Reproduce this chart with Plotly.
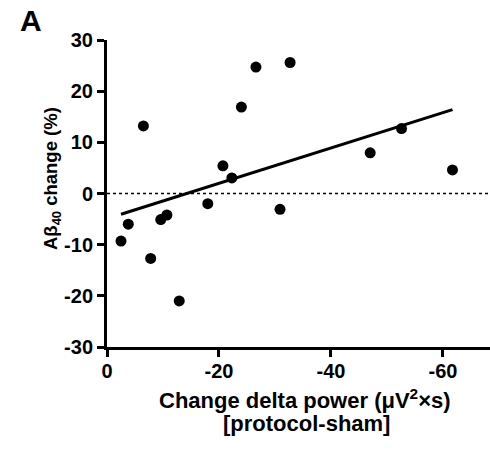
import plotly.graph_objects as go

# Data (x = change in delta power, y = Abeta40 change %)
delta_power = [-2.5, -3.8, -6.5, -7.8, -9.6, -10.7, -12.9, -18.0, -20.7, -22.3,
               -24.0, -26.6, -30.9, -32.7, -47.0, -52.6, -61.7]
abeta_change = [-9.3, -6.0, 13.2, -12.7, -5.1, -4.2, -21.0, -2.0, 5.4, 3.05,
                16.9, 24.7, -3.1, 25.6, 7.95, 12.7, 4.6]

# Regression line endpoints
fit_x = [-2.5, -61.7]
fit_y = [-4.05, 16.4]

x_ticks = [0, -20, -40, -60]
x_tick_labels = ["0", "-20", "-40", "-60"]
y_ticks = [-30, -20, -10, 0, 10, 20, 30]
y_tick_labels = ["-30", "-20", "-10", "0", "10", "20", "30"]

FONT = "Liberation Sans, Arial, Helvetica, sans-serif"

fig = go.Figure()
fig.add_trace(go.Scatter(x=delta_power, y=abeta_change, mode="markers",
                         marker=dict(color="black", size=11), showlegend=False,
                         cliponaxis=False))
fig.add_trace(go.Scatter(x=fit_x, y=fit_y, mode="lines",
                         line=dict(color="black", width=3), showlegend=False))

fig.add_shape(type="line", xref="paper", x0=0, x1=1, yref="y", y0=0, y1=0,
              line=dict(color="black", width=1.5, dash="dot"), layer="below")

axis_common = dict(showline=True, linecolor="black", linewidth=3, ticks="outside",
                   ticklen=7, tickwidth=3, tickcolor="black", showgrid=False,
                   zeroline=False,
                   tickfont=dict(family=FONT, size=20, color="black", weight="bold"))

fig.update_xaxes(range=[0, -68.4], tickvals=x_ticks, ticktext=x_tick_labels,
                 ticklabelstandoff=-3, **axis_common)
fig.update_yaxes(range=[-30, 30], tickvals=y_ticks, ticktext=y_tick_labels,
                 **axis_common)

title_font = dict(family=FONT, size=22, color="black", weight="bold")
fig.add_annotation(text="Change delta power (μV<sup>2</sup>×s)",
                   xref="paper", yref="paper", x=0.517, y=-0.168, yanchor="middle",
                   xanchor="center", showarrow=False, font=title_font)
fig.add_annotation(text="[protocol-sham]",
                   xref="paper", yref="paper", x=0.521, y=-0.248, yanchor="middle",
                   xanchor="center", showarrow=False, font=title_font)
fig.add_annotation(text="Aβ<sub>40</sub> change (%)", textangle=-90,
                   xref="paper", yref="paper", x=-0.144, y=0.55,
                   xanchor="center", yanchor="middle", showarrow=False,
                   font=dict(family=FONT, size=18.5, color="black", weight="bold"))
fig.add_annotation(text="A", xref="paper", yref="paper", x=-0.198, y=1.062,
                   xanchor="center", yanchor="middle", showarrow=False,
                   font=dict(family=FONT, size=30, color="black", weight="bold"))

fig.update_layout(width=490, height=452, plot_bgcolor="white", paper_bgcolor="white",
                  margin=dict(l=107, r=0, t=40, b=105.3), showlegend=False)

fig.write_html("out.html", config={"displayModeBar": False},
               post_script="document.body.style.margin='0';document.body.style.padding='0';")
